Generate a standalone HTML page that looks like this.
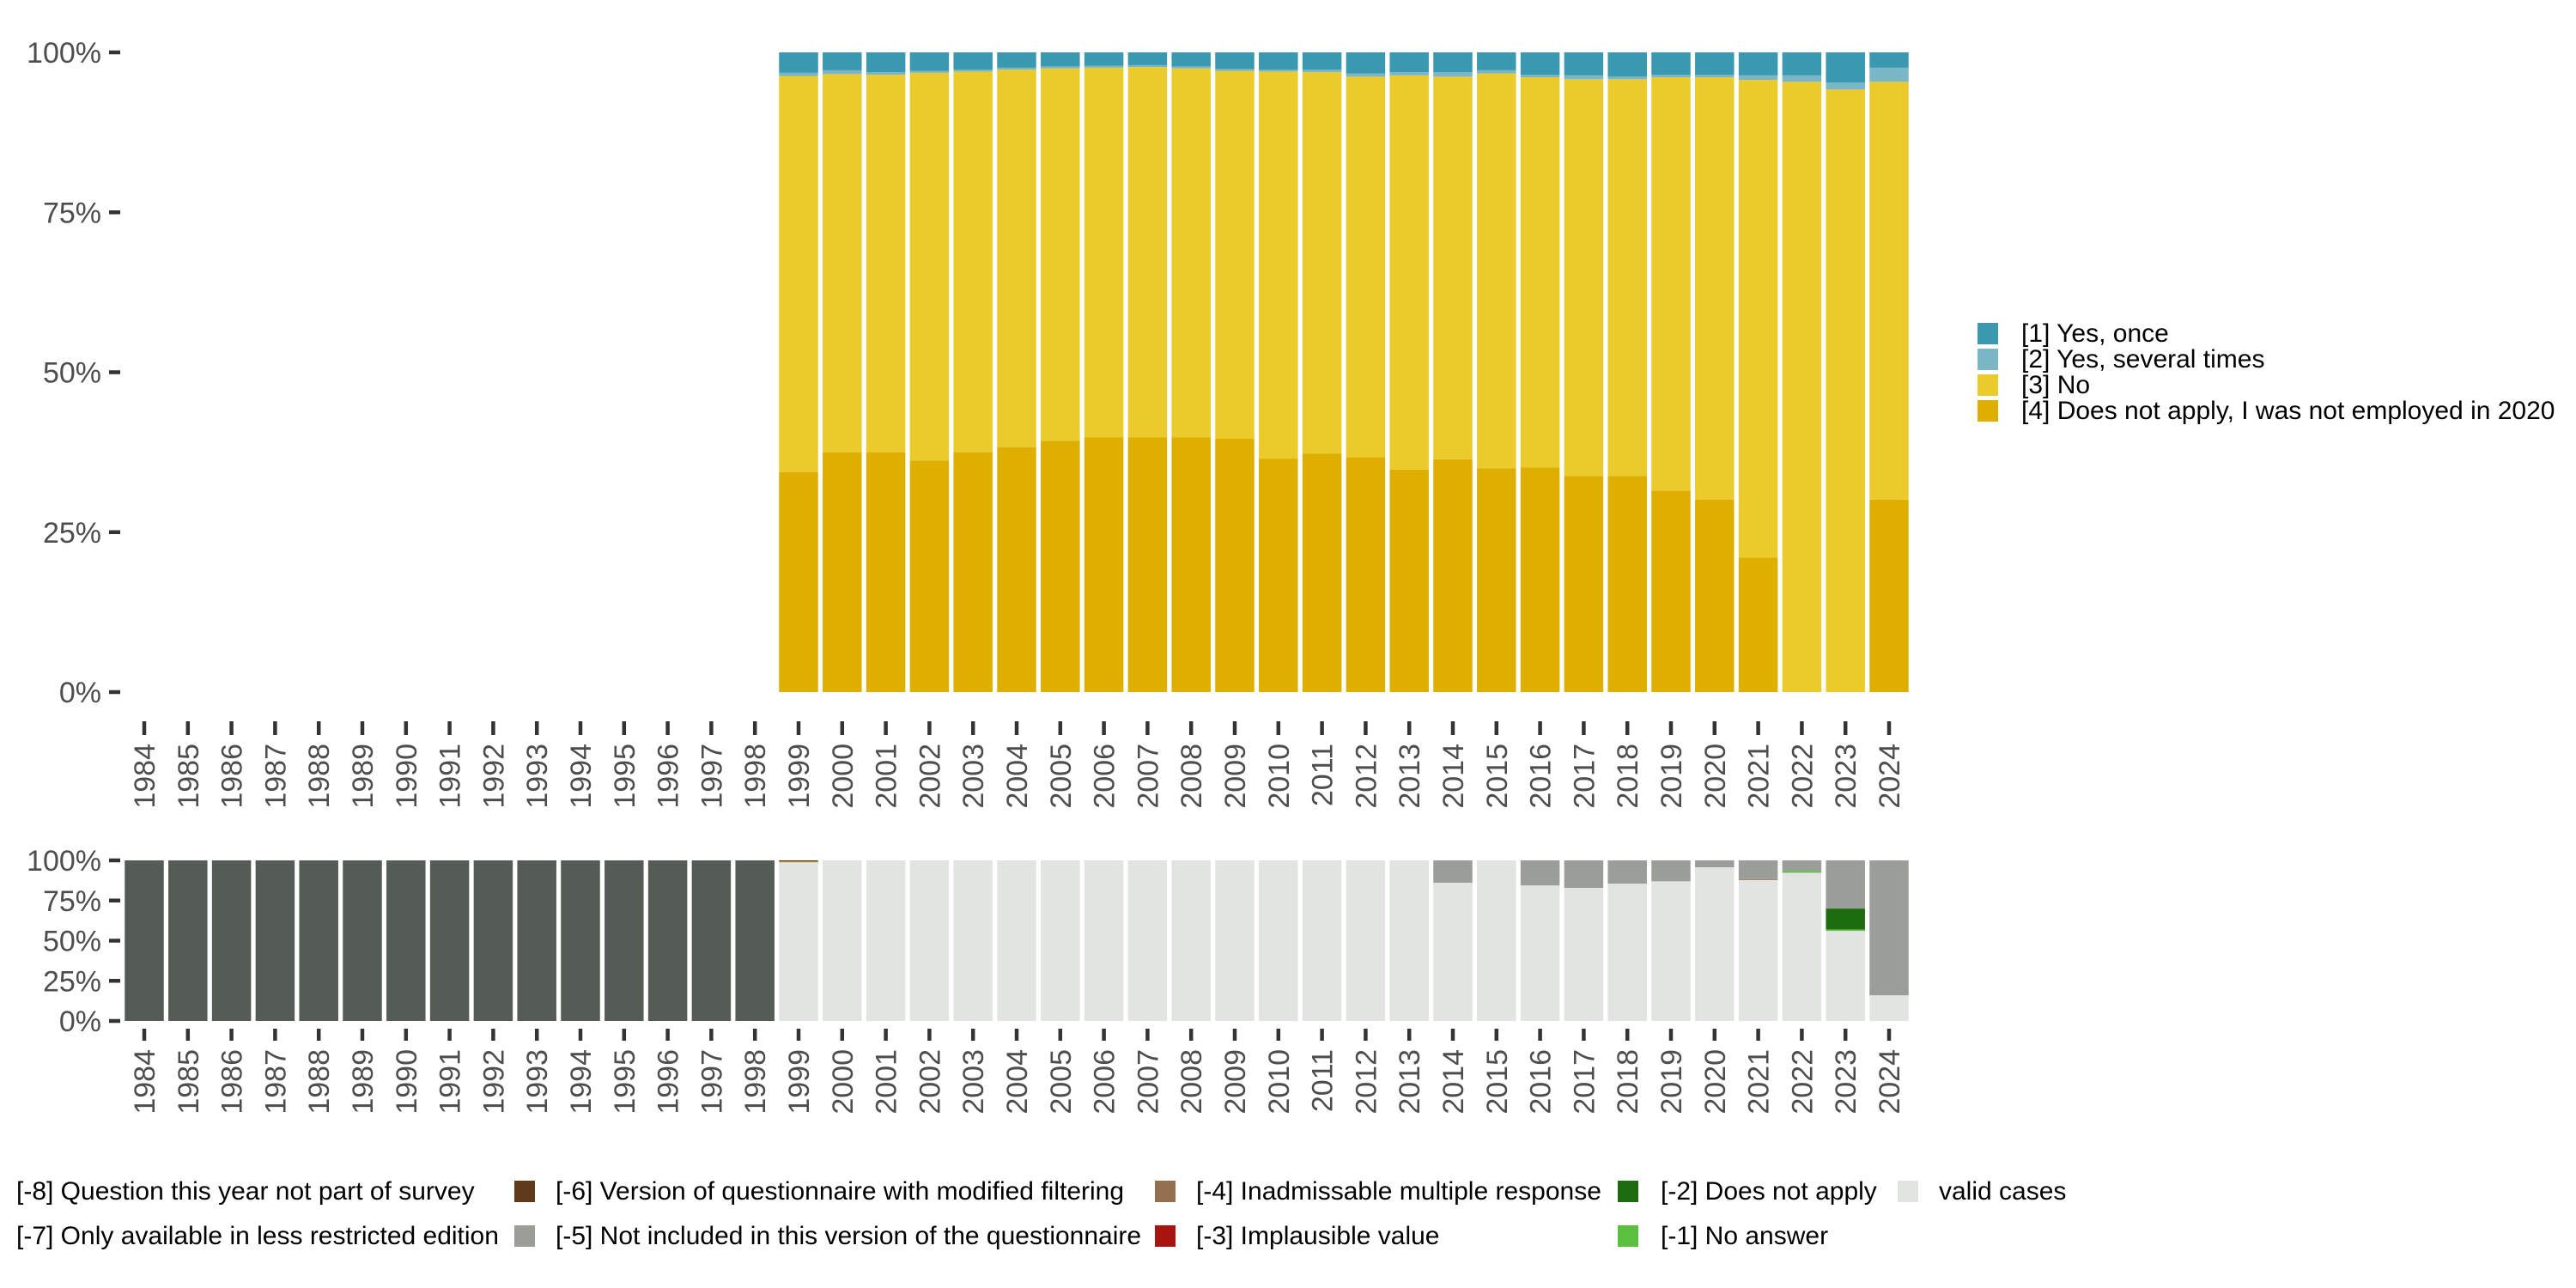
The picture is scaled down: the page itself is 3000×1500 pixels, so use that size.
<!DOCTYPE html>
<html><head><meta charset="utf-8"><style>
body{margin:0;background:#fff;}
svg{display:block;font-family:"Liberation Sans",sans-serif;}
</style></head><body>
<svg id="chart" width="3000" height="1500" viewBox="0 0 3000 1500" xmlns="http://www.w3.org/2000/svg">
<g id="top"></g>
<g id="bot"></g>
<g id="leg"></g>
</svg>
<script>
const years = [];
for (let y = 1984; y <= 2024; y++) years.push(y);
const topYears = [1999,2000,2001,2002,2003,2004,2005,2006,2007,2008,2009,2010,2011,2012,2013,2014,2015,2016,2017,2018,2019,2020,2021,2022,2023,2024];
const cumDoesNot = [34.4,37.5,37.5,36.2,37.5,38.3,39.3,39.8,39.8,39.8,39.6,36.5,37.3,36.7,34.8,36.4,35.0,35.1,33.8,33.8,31.5,30.1,21.0,0,0,30.1];
const cumNo = [96.3,96.6,96.5,96.8,97.0,97.3,97.5,97.6,97.7,97.5,97.1,97.0,96.9,96.2,96.4,96.2,96.7,96.1,95.8,95.8,96.1,96.1,95.7,95.4,94.2,95.4];
const cumSeveral = [96.8,97.2,96.9,97.1,97.3,97.6,97.8,97.9,98.0,97.8,97.4,97.3,97.3,96.7,96.9,96.9,97.2,96.5,96.4,96.2,96.5,96.5,96.4,96.4,95.3,97.6];
const sDoesNot = cumDoesNot.slice();
const sNo = cumNo.map((v,i)=>v-cumDoesNot[i]);
const sSeveral = cumSeveral.map((v,i)=>v-cumNo[i]);
const sOnce = cumSeveral.map(v=>100-v);
const topSeries = [
 {name:"[4] Does not apply, I was not employed in 2020", color:"#DFAF00", vals:sDoesNot},
 {name:"[3] No", color:"#EBCB2C", vals:sNo},
 {name:"[2] Yes, several times", color:"#7AB6C6", vals:sSeveral},
 {name:"[1] Yes, once", color:"#3A98B0", vals:sOnce}
];
const vValid = [0,0,0,0,0,0,0,0,0,0,0,0,0,0,0,98.8,100,100,100,100,100,100,100,100,100,100,100,100,100,100,86.1,100,84.4,82.9,85.5,87,95.7,87.8,92.3,56.1,16];
const vNoAns = [0,0,0,0,0,0,0,0,0,0,0,0,0,0,0,0.6,0,0,0,0,0,0,0,0,0,0,0,0,0,0,0,0,0,0,0,0,0,0,1.1,0.9,0];
const vDoesNotApply = [0,0,0,0,0,0,0,0,0,0,0,0,0,0,0,0,0,0,0,0,0,0,0,0,0,0,0,0,0,0,0,0,0,0,0,0,0,0,0,13,0];
const vInadm = [0,0,0,0,0,0,0,0,0,0,0,0,0,0,0,0,0,0,0,0,0,0,0,0,0,0,0,0,0,0,0,0,0,0,0,0,0,0.6,0,0,0];
const vNotIncl = [0,0,0,0,0,0,0,0,0,0,0,0,0,0,0,0.6,0,0,0,0,0,0,0,0,0,0,0,0,0,0,0,0,0,0,0,0,0,0,0,0,0];
const vOnlyLess = [0,0,0,0,0,0,0,0,0,0,0,0,0,0,0,0,0,0,0,0,0,0,0,0,0,0,0,0,0,0,13.9,0,15.6,17.1,14.5,13,4.3,11.6,6.6,30,84];
const vNotPart = [100,100,100,100,100,100,100,100,100,100,100,100,100,100,100,0,0,0,0,0,0,0,0,0,0,0,0,0,0,0,0,0,0,0,0,0,0,0,0,0,0];
const botSeries = [
 {color:"#E1E4E0", vals:vValid, name:"valid"},
 {color:"#5BBF3F", vals:vNoAns, name:"no-answer"},
 {color:"#1F6B10", vals:vDoesNotApply, name:"does-not-apply"},
 {color:"#957050", vals:vInadm, name:"inadmissable"},
 {color:"#A8150F", vals:vNotIncl, name:"not-included"},
 {color:"#9A9D98", vals:vOnlyLess, name:"only-less-restricted"},
 {color:"#555B55", vals:vNotPart, name:"not-part"}
];
const yTicks = [0,25,50,75,100];
const NS="http://www.w3.org/2000/svg";
function mk(tag, attrs, parent){const e=document.createElementNS(NS,tag);for(const k in attrs)e.setAttribute(k,attrs[k]);parent.appendChild(e);return e;}
const x0=142.6, pitch=50.8, bw=45.5;
function xc(year){return x0+pitch*(year-1984)+pitch/2;}
function panel(g, yTop, yBot, labelY, tickY1, tickY2, name){
  const ys=v=>yBot-(yBot-yTop)*v/100;
  yTicks.forEach(t=>{
    const tx=mk('text',{x:118,y:ys(t)+12,'text-anchor':'end','font-size':34,fill:'#4d4d4d'},g);
    tx.textContent=t+'%';
    
    
    const l=mk('line',{x1:127,x2:140,y1:ys(t),y2:ys(t),stroke:'#333','stroke-width':4.5},g);
    
    
  });
  years.forEach(yr=>{
    const l=mk('line',{x1:xc(yr),x2:xc(yr),y1:tickY1,y2:tickY2,stroke:'#333','stroke-width':4.5},g);
    
    
    const t=mk('text',{x:0,y:0,'text-anchor':'end','font-size':34,fill:'#4d4d4d',transform:`translate(${xc(yr)+12},${labelY}) rotate(-90)`},g);
    t.textContent=yr;
    
    
  });
  return ys;
}
const gt=document.getElementById('top');
const ysT=panel(gt,61,806,866,840,856,'top');
topYears.forEach((yr,i)=>{
  let acc=0;
  topSeries.forEach(s=>{
    const v=s.vals[i]; if(v<=0){return;}
    const r=mk('rect',{x:xc(yr)-bw/2,y:ysT(acc+v),width:bw,height:ysT(acc)-ysT(acc+v),fill:s.color},gt);
    
    
    acc+=v;
  });
});
const gb=document.getElementById('bot');
const ysB=panel(gb,1002,1189,1222,1198,1212,'bottom');
years.forEach((yr,i)=>{
  let acc=0;
  botSeries.forEach(s=>{
    const v=s.vals[i]; if(v<=0){return;}
    const r=mk('rect',{x:xc(yr)-bw/2,y:ysB(acc+v),width:bw,height:ysB(acc)-ysB(acc+v),fill:s.color},gb);
    
    
    acc+=v;
  });
});
const gl=document.getElementById('leg');
const topLeg=[["#3A98B0","[1] Yes, once"],["#7AB6C6","[2] Yes, several times"],["#EBCB2C","[3] No"],["#DFAF00","[4] Does not apply, I was not employed in 2020"]];
topLeg.forEach((e,i)=>{
  const y=376+30*i;
  const r=mk('rect',{x:2303,y:y,width:24,height:25,fill:e[0]},gl);
  
  
  const t=mk('text',{x:2354,y:y+22,'font-size':30,fill:'#000'},gl);
  t.textContent=e[1];
  
  
});
const botKeys=[[599,1387,"#5C3A1A"],[1345,1387,"#957050"],[1884,1387,"#1F6B10"],[2210,1387,"#E1E4E0"],[599,1439,"#9A9D98"],[1345,1439,"#A8150F"],[1884,1439,"#5BBF3F"]];
botKeys.forEach(k=>{
  const r=mk('rect',{x:k[0],y:k[1]-12,width:24,height:25,fill:k[2]},gl);
  
  
});
const botTexts=[[19,1387,"[-8] Question this year not part of survey"],[647,1387,"[-6] Version of questionnaire with modified filtering"],[1393,1387,"[-4] Inadmissable multiple response"],[1934,1387,"[-2] Does not apply"],[2258,1387,"valid cases"],[19,1439,"[-7] Only available in less restricted edition"],[647,1439,"[-5] Not included in this version of the questionnaire"],[1393,1439,"[-3] Implausible value"],[1934,1439,"[-1] No answer"]];
botTexts.forEach(k=>{
  const t=mk('text',{x:k[0],y:k[1]+10,'font-size':30,fill:'#000'},gl);
  t.textContent=k[2];
  
  
});
</script>
</body></html>
